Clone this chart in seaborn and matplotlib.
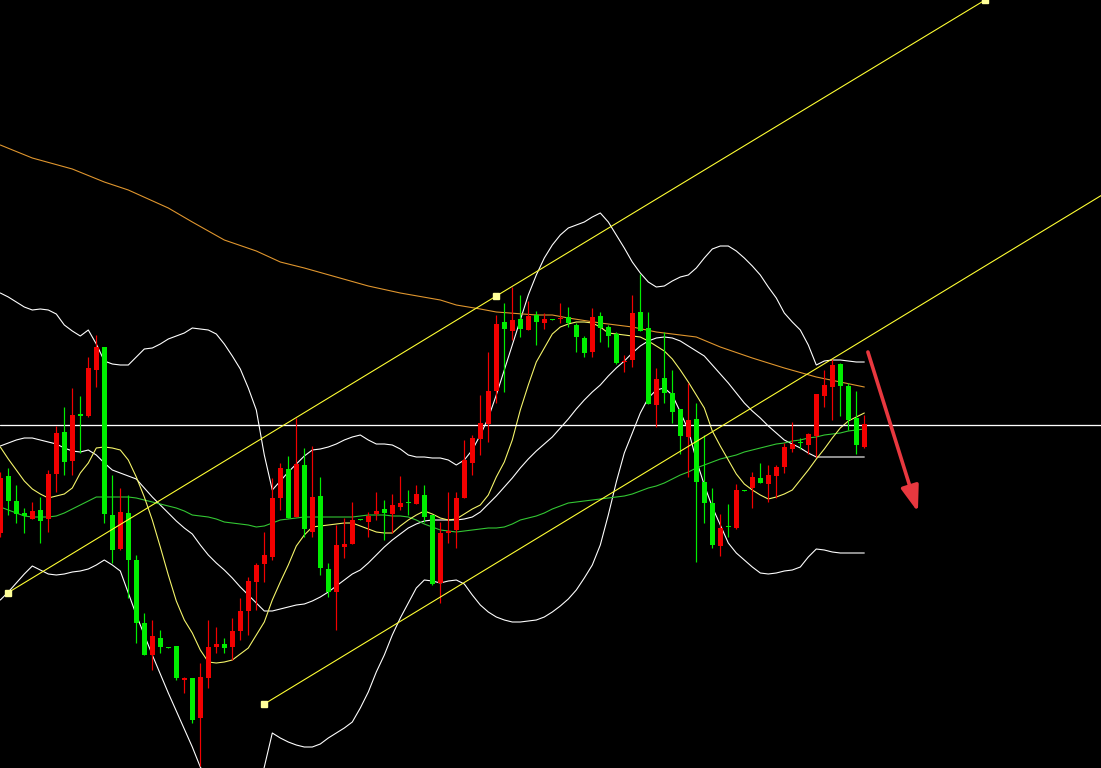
import numpy as np
import pandas as pd
import matplotlib
matplotlib.use('Agg')
import matplotlib.pyplot as plt
import seaborn as sns

# candles (price units are arbitrary screen levels)
opens = [235, 292, 267, 255, 249, 258, 249, 294, 336, 307,
         354, 352, 398, 421, 253, 219, 255, 208, 145, 113,
         130, 121, 122, 88, 90, 50, 90, 121, 124, 121,
         137, 157, 186, 204, 211, 270, 299, 251, 303, 236,
         272, 199, 176, 221, 224, 249, 246, 254, 259, 254,
         261, 266, 264, 273, 253, 185, 235, 238, 270, 305,
         329, 344, 377, 446, 437, 449, 438, 453, 445, 449,
         449, 451, 443, 430, 416, 452, 441, 434, 406, 408,
         456, 440, 363, 390, 375, 359, 331, 349, 286, 265,
         222, 242, 240, 278, 280, 290, 284, 292, 301, 319,
         326, 323, 332, 372, 381, 404, 382, 350, 321]
highs = [296, 300, 283, 260, 266, 271, 298, 342, 361, 380,
         372, 411, 433, 421, 293, 280, 273, 213, 155, 148,
         138, 121, 122, 91, 90, 105, 148, 141, 130, 150,
         170, 191, 205, 236, 290, 305, 312, 350, 320, 322,
         291, 205, 243, 250, 266, 249, 256, 276, 268, 274,
         292, 278, 283, 283, 253, 246, 276, 276, 328, 333,
         373, 416, 453, 465, 481, 473, 467, 457, 455, 449,
         465, 461, 445, 432, 460, 456, 443, 436, 413, 473,
         494, 456, 400, 436, 398, 359, 385, 365, 333, 280,
         254, 264, 284, 278, 296, 305, 303, 303, 325, 346,
         330, 335, 374, 398, 409, 405, 385, 377, 353]
lows = [231, 253, 245, 235, 249, 225, 236, 276, 293, 293,
        315, 351, 381, 245, 205, 218, 170, 125, 113, 98,
        115, 120, 88, 75, 45, 2, 80, 115, 115, 108,
        128, 133, 158, 186, 208, 258, 250, 251, 231, 231,
        193, 171, 138, 210, 224, 248, 231, 248, 228, 235,
        258, 253, 264, 246, 183, 165, 225, 220, 270, 293,
        313, 326, 365, 376, 428, 431, 438, 423, 439, 448,
        445, 441, 416, 411, 411, 426, 421, 404, 396, 401,
        437, 364, 341, 365, 345, 314, 291, 206, 245, 220,
        212, 231, 239, 277, 260, 285, 266, 270, 295, 316,
        319, 314, 311, 361, 348, 352, 338, 314, 320]
closes = [290, 267, 254, 252, 257, 247, 294, 335, 306, 353,
          352, 400, 421, 254, 218, 256, 208, 145, 113, 132,
          121, 120, 90, 90, 48, 91, 121, 124, 120, 137,
          157, 187, 203, 213, 270, 300, 250, 304, 239, 271,
          200, 176, 223, 224, 248, 248, 252, 257, 255, 263,
          265, 265, 274, 251, 184, 235, 237, 270, 308, 330,
          345, 377, 444, 439, 448, 439, 452, 446, 449, 448,
          450, 445, 431, 415, 451, 440, 432, 405, 407, 455,
          437, 364, 389, 375, 356, 332, 348, 286, 265, 223,
          240, 241, 278, 277, 291, 285, 293, 301, 321, 324,
          325, 334, 374, 383, 403, 382, 348, 323, 344]

# indicator lines, one value per candle
boll_upper = [475, 471, 466, 461, 458, 459, 458, 454, 443, 437,
              432, 438, 424, 407, 404, 403, 403, 411, 419, 420,
              424, 429, 432, 435, 440, 439, 438, 434, 424, 412,
              399, 380, 358, 313, 278, 287, 296, 304, 312, 318,
              319, 321, 324, 328, 331, 333, 328, 324, 324, 323,
              319, 313, 311, 311, 310, 310, 308, 303, 308, 318,
              333, 350, 373, 398, 423, 448, 473, 493, 510, 523,
              533, 540, 543, 546, 551, 555, 546, 533, 520, 506,
              495, 486, 481, 482, 487, 491, 493, 500, 510, 519,
              522, 522, 517, 510, 502, 493, 481, 470, 455, 446,
              438, 423, 403, 407, 408, 408, 407, 406, 406]
boll_mid = [322, 325, 328, 330, 330, 328, 326, 324, 320, 317,
            316, 318, 313, 305, 298, 295, 292, 289, 280, 271,
            263, 255, 247, 240, 234, 223, 213, 205, 198, 190,
            181, 173, 165, 157, 157, 159, 161, 163, 164, 167,
            171, 176, 182, 188, 194, 198, 205, 213, 221, 228,
            234, 240, 244, 247, 248, 248, 248, 248, 249, 251,
            256, 264, 272, 281, 290, 300, 309, 317, 324, 331,
            340, 349, 359, 368, 376, 383, 392, 400, 407, 415,
            422, 427, 430, 431, 430, 427, 422, 417, 412, 403,
            394, 385, 375, 365, 357, 350, 342, 335, 328, 324,
            320, 315, 311, 311, 311, 311, 311, 311, 311]
boll_lower = [168, 176, 185, 194, 202, 198, 194, 193, 194, 196,
              197, 199, 203, 208, 203, 197, 175, 153, 133, 113,
              94, 75, 57, 39, 21, 1, -12, -24, -28, -32,
              -37, -34, -28, 1, 35, 30, 26, 23, 21, 21,
              24, 30, 35, 40, 46, 60, 76, 96, 113, 133,
              150, 165, 180, 188, 187, 185, 187, 188, 184, 173,
              163, 156, 151, 148, 146, 146, 147, 148, 151, 156,
              162, 169, 178, 190, 203, 223, 253, 286, 315, 335,
              355, 370, 378, 380, 373, 356, 338, 308, 283, 261,
              243, 225, 215, 208, 201, 195, 194, 195, 197, 198,
              201, 211, 219, 218, 216, 215, 215, 215, 215]
ma_fast = [321, 309, 298, 287, 279, 274, 270, 272, 274, 280,
           295, 305, 320, 321, 320, 318, 308, 291, 271, 248,
           221, 193, 167, 148, 135, 118, 106, 105, 106, 108,
           114, 120, 133, 146, 168, 186, 203, 222, 233, 241,
           242, 243, 244, 245, 245, 242, 239, 236, 235, 235,
           242, 248, 253, 257, 254, 250, 248, 249, 254, 259,
           263, 273, 291, 306, 328, 358, 383, 406, 420, 434,
           441, 444, 446, 446, 445, 441, 435, 434, 433, 432,
           431, 427, 422, 417, 409, 398, 386, 373, 360, 337,
           322, 308, 294, 284, 278, 273, 269, 271, 274, 278,
           288, 298, 309, 319, 330, 340, 347, 351, 355]
ma_mid = [261, 258, 255, 252, 251, 251, 251, 252, 255, 259,
          263, 267, 271, 271, 271, 271, 271, 270, 268, 266,
          264, 262, 260, 257, 253, 252, 251, 249, 246, 245,
          244, 243, 241, 242, 245, 248, 249, 250, 251, 251,
          251, 251, 251, 251, 251, 252, 253, 253, 253, 252,
          252, 251, 248, 244, 241, 238, 237, 236, 237, 238,
          239, 240, 240, 241, 244, 248, 250, 252, 255, 259,
          262, 265, 266, 267, 268, 269, 270, 271, 272, 274,
          277, 280, 282, 285, 289, 293, 296, 300, 303, 306,
          309, 311, 313, 316, 318, 320, 322, 324, 325, 327,
          328, 330, 331, 333, 334, 335, 337, 338, 339]
# slow average, sampled every few candles
ma_slow_bar = [0, 4, 9, 13, 16, 21, 24, 28, 32, 35, 38, 42, 46, 50, 55, 57,
               60, 62, 67, 69, 71, 75, 79, 82, 87, 90, 94, 98, 102, 108]
ma_slow = [623, 610, 599, 586, 578, 560, 546, 528, 517, 506, 500, 491, 482,
           475, 468, 463, 459, 456, 453, 453, 450, 445, 441, 436, 431, 421,
           410, 400, 391, 381]

level_line = 343.5
# channel: anchor points of the two parallel trend lines
chan_a_bar = [0.9, 62.0, 123.1]
chan_a_val = [175, 472, 768]
chan_b_bar = [33.0]
chan_b_val = [64]
arrow_from = (108.45, 416)
arrow_to = (114.7, 256)

sns.set_theme(style='dark', rc={'axes.facecolor': 'black', 'figure.facecolor': 'black'})

fig = plt.figure(figsize=(11.01, 7.68), dpi=100)
ax = fig.add_axes([0, 0, 1, 1])
ax.set_facecolor('black')

bars = np.arange(len(opens))
px = 0.72  # one pixel in points

lines = pd.DataFrame({'bar': bars, 'upper': boll_upper, 'mid': boll_mid, 'lower': boll_lower,
                      'fast': ma_fast, 'ma60': ma_mid})
for col, colr in [('upper', 'white'), ('mid', 'white'), ('lower', 'white'),
                  ('ma60', '#33c733'), ('fast', '#f5f56a')]:
    sns.lineplot(data=lines, x='bar', y=col, color=colr, lw=1.1 * px, ax=ax, zorder=2)
sns.lineplot(x=ma_slow_bar, y=ma_slow, color='#e0962e', lw=1.1 * px, ax=ax, zorder=2)

ax.axhline(level_line, color='white', lw=1.3 * px, zorder=3)

# candles (red = up, green = down)
o = np.array(opens, float)
c = np.array(closes, float)
cols = np.where(c >= o, '#f20000', '#00ee00')
ax.vlines(bars, lows, highs, colors=cols, lw=1.2 * px, zorder=4)
body = np.maximum(np.abs(c - o), 1.5)
ax.bar(bars, body, bottom=np.minimum(o, c) - (body - np.abs(c - o)) / 2,
       width=0.62, color=cols, linewidth=0, zorder=5)

# trend channel
slope = (chan_a_val[1] - chan_a_val[0]) / (chan_a_bar[1] - chan_a_bar[0])
xmin, xmax = -0.0375, -0.0375 + 1101 / 8
ax.plot(chan_a_bar, chan_a_val, color='#ffff33', lw=1.1 * px, zorder=6)
b_end = xmax
ax.plot([chan_b_bar[0], b_end], [chan_b_val[0], chan_b_val[0] + slope * (b_end - chan_b_bar[0])],
        color='#ffff33', lw=1.1 * px, zorder=6)
ax.plot(chan_a_bar, chan_a_val, ls='none', marker='s', ms=4, color='#ffff99', zorder=7)
ax.plot(chan_b_bar, chan_b_val, ls='none', marker='s', ms=4, color='#ffff99', zorder=7)

ax.annotate('', xy=arrow_to, xytext=arrow_from,
            arrowprops=dict(arrowstyle='-|>,head_length=1.3,head_width=0.45',
                            color='#e8383f', lw=2.6, shrinkA=0, shrinkB=0), zorder=8)

ax.set_xlim(xmin, xmax)
ax.set_ylim(0, 768)
ax.set_axis_off()

fig.savefig('out.png', dpi=100, facecolor='black')
